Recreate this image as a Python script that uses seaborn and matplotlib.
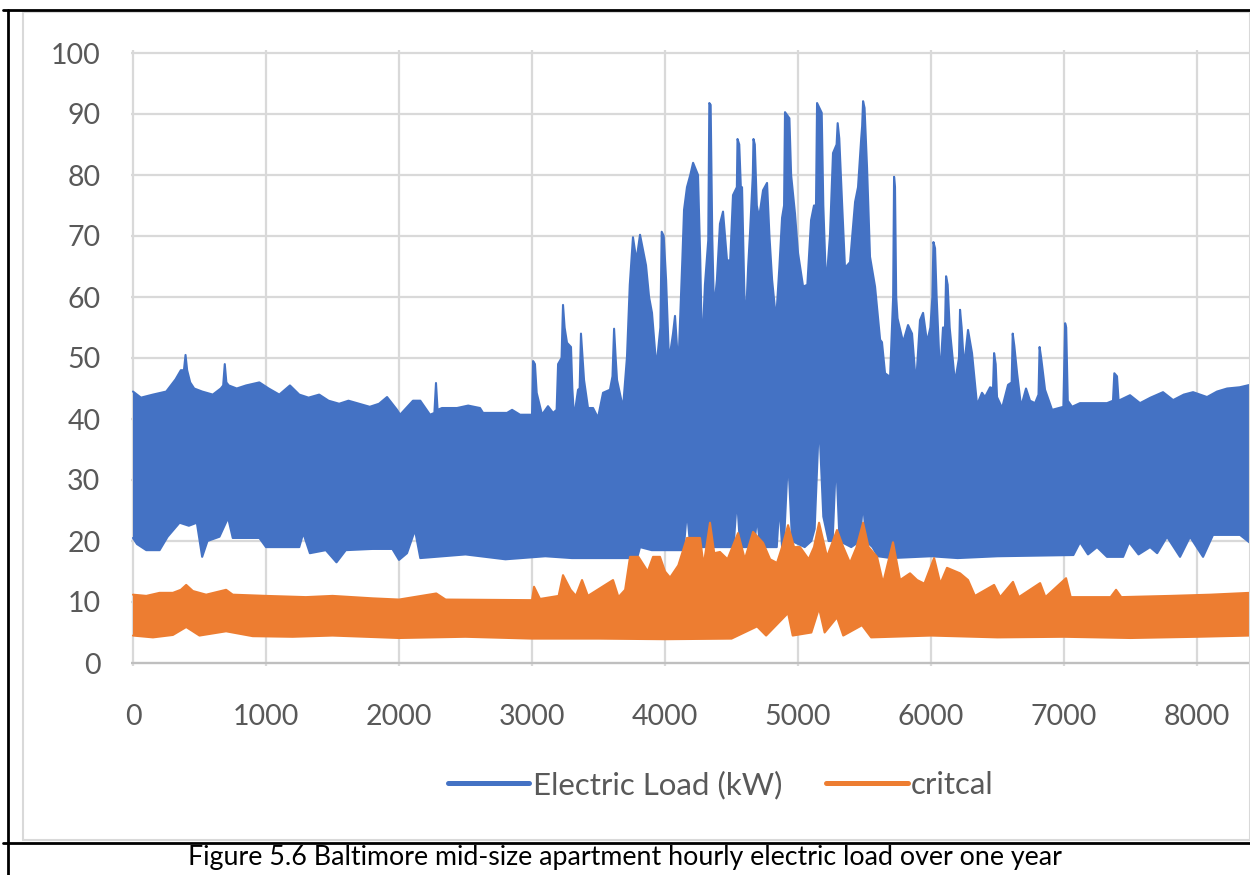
import numpy as np
import pandas as pd
import matplotlib
matplotlib.use("Agg")
import matplotlib.pyplot as plt
from matplotlib.lines import Line2D
from matplotlib.patches import Rectangle
import seaborn as sns

# ---------------- data (hour of year, kW) ----------------
# Electric Load: upper envelope (daily peaks)
load_upper_hour = [0, 60, 150, 250, 320, 360, 383, 395, 407, 430, 460, 520, 600, 660, 678, 690, 702,
                   720, 780, 850, 950, 1020, 1100, 1180, 1250, 1320, 1400, 1470, 1550, 1620, 1700,
                   1780, 1850, 1910, 1985, 2008, 2105, 2160, 2233, 2266, 2278, 2290, 2323, 2436,
                   2520, 2609, 2632, 2812, 2850, 2910, 3000, 3008, 3022, 3035, 3075, 3120, 3158,
                   3185, 3196, 3222, 3233, 3245, 3263, 3293, 3303, 3316, 3346, 3358, 3368, 3380,
                   3391, 3421, 3459, 3496, 3534, 3586, 3605, 3617, 3629, 3639, 3684, 3714, 3735,
                   3759, 3785, 3812, 3857, 3880, 3902, 3935, 3965, 3975, 3990, 4008, 4030, 4060,
                   4075, 4100, 4130, 4143, 4165, 4190, 4211, 4248, 4265, 4278, 4300, 4325, 4333,
                   4343, 4355, 4368, 4390, 4413, 4436, 4466, 4490, 4511, 4540, 4545, 4558, 4570,
                   4579, 4595, 4605, 4625, 4639, 4660, 4665, 4675, 4690, 4707, 4737, 4767, 4785,
                   4805, 4835, 4860, 4880, 4895, 4902, 4935, 4948, 4977, 5000, 5038, 5070, 5098,
                   5120, 5135, 5143, 5178, 5190, 5211, 5240, 5263, 5290, 5298, 5310, 5331, 5353,
                   5391, 5429, 5451, 5475, 5482, 5489, 5500, 5519, 5541, 5579, 5617, 5631, 5654,
                   5692, 5715, 5722, 5729, 5738, 5748, 5790, 5827, 5857, 5887, 5917, 5940, 5970,
                   5995, 6010, 6018, 6030, 6042, 6068, 6090, 6105, 6113, 6125, 6140, 6180, 6210,
                   6218, 6230, 6248, 6278, 6308, 6346, 6383, 6406, 6444, 6466, 6474, 6486, 6496,
                   6534, 6579, 6606, 6614, 6626, 6647, 6677, 6714, 6744, 6782, 6808, 6816, 6828,
                   6857, 6910, 6995, 7008, 7016, 7028, 7060, 7120, 7323, 7368, 7378, 7398, 7410,
                   7496, 7571, 7650, 7744, 7820, 7900, 7970, 8075, 8150, 8226, 8320, 8398]
load_upper_kw = [44.5, 43.5, 44, 44.5, 46.5, 48, 48, 50.5, 48, 46, 45, 44.5, 44, 45, 45.5, 49, 46,
                 45.5, 45, 45.5, 46, 45, 44, 45.5, 44, 43.5, 44, 43, 42.5, 43, 42.5,
                 42, 42.5, 43.6, 41.5, 40.7, 43, 43, 40.7, 41, 45.9, 41.5, 41.8, 41.8,
                 42.2, 41.8, 41, 41, 41.5, 40.7, 40.7, 49.5, 49, 44.3, 40.7, 42.1, 41,
                 41.5, 49, 50, 58.7, 55, 52.5, 51.8, 45, 40.2, 44.8, 45, 54, 50,
                 46.4, 41.8, 41.8, 40.2, 44.3, 44.8, 47, 54.8, 50, 46.4, 41.8, 50.2, 62,
                 69.8, 66, 70.2, 65.2, 60, 57.4, 48.5, 55, 70.7, 70, 62.8, 49.5, 54,
                 56.9, 48.5, 66, 74.3, 78, 80, 82, 80, 66, 50.8, 62, 69.3, 91.8,
                 91.5, 70, 57.9, 62.8, 72, 74, 66, 66, 76.7, 78, 85.9, 85, 78,
                 78, 62, 54.6, 65, 70.5, 80, 85.9, 85, 75, 73, 77.5, 78.7, 70,
                 62.8, 56.2, 65, 73, 75, 90.3, 89.3, 80, 73.7, 67.2, 61.7, 62, 72.6,
                 75, 75, 91.8, 90.2, 75, 61.7, 70, 83.6, 85, 88.5, 86, 75.4, 64.8,
                 65.7, 75.6, 78, 86, 88, 92.1, 91, 81.1, 66.6, 61.7, 53, 52.6, 47.5,
                 46.9, 60, 79.7, 78, 60, 56.5, 52.6, 55.4, 54, 45.6, 56.2, 57.4, 52.6,
                 55, 60, 69, 68, 60, 46.9, 55, 55, 63.4, 62, 55, 46, 50,
                 57.9, 55, 48.5, 54.6, 50.8, 42.3, 44.3, 43.6, 45.2, 45, 50.8, 49, 43.6,
                 41.8, 45.6, 46, 54, 52, 47.5, 42, 45, 43, 42.6, 44, 51.8, 50,
                 44.8, 41.5, 42, 55.7, 55, 43, 42, 42.6, 42.6, 43, 47.5, 47, 43,
                 43.9, 42.6, 43.5, 44.4, 43.1, 44, 44.4, 43.6, 44.5, 45, 45.2, 45.6]

# Electric Load: lower envelope (daily minima)
load_lower_hour = [0, 30, 100, 200, 260, 350, 420, 480, 520, 560, 650, 715, 750, 950, 1000, 1250,
                   1280, 1330, 1450, 1530, 1600, 1800, 1950, 2000, 2060, 2120, 2160, 2500, 2800,
                   3100, 3300, 3790, 3812, 3900, 4000, 4100, 4140, 4165, 4190, 4300, 4400, 4515,
                   4541, 4565, 4670, 4692, 4715, 4840, 4860, 4880, 4895, 4925, 4955, 5050, 5100,
                   5125, 5158, 5190, 5230, 5260, 5286, 5312, 5400, 5465, 5489, 5512, 5560, 5600,
                   5700, 6000, 6200, 6500, 7070, 7120, 7180, 7248, 7323, 7444, 7489, 7560, 7647,
                   7700, 7774, 7872, 7947, 8045, 8120, 8323, 8398]
load_lower_kw = [20.5, 19.5, 18.5, 18.5, 20.7, 23, 22.5, 23, 17.4, 20, 20.7, 23.8, 20.5, 20.5, 19, 19,
                 21.3, 18, 18.5, 16.5, 18.5, 18.7, 18.7, 16.9, 18, 21.8, 17.2, 17.8, 17.0,
                 17.5, 17.2, 17.2, 19, 18.5, 18.5, 18.5, 18.5, 25, 19, 19, 19, 19,
                 27, 19, 19, 24, 19, 19, 26, 19, 20, 34, 20, 19, 20,
                 22, 40, 24, 20, 20, 33.8, 20, 19, 20, 26.4, 20, 19, 17.5,
                 17.2, 17.5, 17.2, 17.5, 17.7, 19.8, 17.8, 19, 17.4, 17.4, 19.8, 17.8, 19,
                 18, 20.7, 17.4, 20.7, 17.4, 21, 21, 19.7]

# critcal: upper envelope
crit_upper_hour = [0, 100, 200, 300, 360, 400, 450, 550, 700, 750, 1000, 1300, 1500, 1800, 2000,
                   2280, 2350, 3000, 3015, 3060, 3200, 3233, 3290, 3330, 3376, 3420, 3609, 3650,
                   3700, 3737, 3800, 3870, 3910, 3962, 4000, 4038, 4100, 4165, 4263, 4290, 4338,
                   4370, 4413, 4470, 4549, 4600, 4662, 4737, 4790, 4842, 4880, 4925, 4970, 5015,
                   5080, 5120, 5158, 5218, 5293, 5340, 5391, 5440, 5489, 5530, 5594, 5639, 5714,
                   5767, 5842, 5895, 5950, 6023, 6070, 6120, 6218, 6278, 6330, 6474, 6520, 6616,
                   6660, 6820, 6860, 7015, 7050, 7350, 7391, 7430, 7800, 8100, 8398]
crit_upper_kw = [11.2, 11, 11.5, 11.5, 12, 12.8, 11.8, 11.2, 12, 11.2, 11, 10.8, 11, 10.6, 10.4,
                 11.4, 10.4, 10.3, 12.5, 10.5, 11, 14.4, 12, 11, 13.6, 11, 13.6, 10.8,
                 12, 17.4, 17.4, 15, 17.4, 17.4, 15, 14, 16, 20.5, 20.5, 16, 23,
                 18, 18.2, 17, 21.3, 17, 21.5, 19.7, 17, 16.4, 19, 22.6, 19, 19,
                 17, 19, 23, 17.4, 21.8, 19, 16.4, 19, 23, 19, 17.4, 13.1, 19.8,
                 13.6, 14.7, 13.6, 13, 17.2, 13, 15.6, 14.7, 13.6, 11, 12.8, 10.8, 13.3,
                 10.8, 13.1, 10.8, 13.9, 10.8, 10.8, 12, 10.8, 11, 11.2, 11.5]

# critcal: lower envelope
crit_lower_hour = [0, 150, 300, 400, 500, 700, 900, 1200, 1500, 2000, 2500, 3000, 3500, 4000, 4500,
                   4692, 4760, 4925, 4960, 5100, 5158, 5200, 5293, 5340, 5481, 5550, 6000, 6500,
                   7000, 7500, 8000, 8398]
crit_lower_kw = [4.5, 4.2, 4.6, 5.9, 4.5, 5.2, 4.4, 4.3, 4.5, 4.1, 4.3, 4.0, 4.0, 3.9, 4.0,
                 6, 4.5, 8.2, 4.5, 5, 9, 5, 7.5, 4.5, 6.2, 4.2, 4.5, 4.2,
                 4.3, 4.1, 4.3, 4.5]

series_labels = ["Electric Load (kW)", "critcal"]
series_colors = ["#4472C4", "#ED7D31"]
x_ticks = list(range(0, 9000, 1000))
y_ticks = list(range(0, 110, 10))
caption = "Figure 5.6 Baltimore mid-size apartment hourly electric load over one year"

# ---------------- figure ----------------
sns.set_theme(style="white")
plt.rcParams['font.family'] = ['Lato', 'DejaVu Sans']

W, H = 1250, 875
fig = plt.figure(figsize=(W / 100, H / 100), dpi=100)
fig.patch.set_facecolor("white")

# outer frame lines (document table) and chart-area frame
fig.add_artist(Rectangle((23 / W, 1 - 840 / H), (W - 23) / W, (840 - 12) / H,
                         transform=fig.transFigure, fill=False, edgecolor="#d9d9d9", lw=1.5))
for (x0, y0, x1, y1) in [(3, 10, W, 10), (8, 10, 8, H), (3, 843, W, 843)]:
    fig.add_artist(Line2D([x0 / W, x1 / W], [1 - y0 / H, 1 - y1 / H],
                          transform=fig.transFigure, color="black", lw=2))

ax = fig.add_axes([131 / W, (H - 666.05) / H, 1119 / W, 616.1 / H])
ax.set_xlim(-15, 8398)
ax.set_ylim(-0.5, 100.5)
ax.set_facecolor("white")
ax.set_axisbelow(True)
ax.grid(True, color="#d9d9d9", lw=1.6)
for s in ax.spines.values():
    s.set_visible(False)
ax.axhline(0, color="#bfbfbf", lw=1.6, zorder=1)

def band(xu, yu, xl, yl, color, z):
    ax.fill(np.r_[xu, xl[::-1]], np.r_[yu, yl[::-1]], color=color, lw=0, zorder=z)
    for xx, yy in ((xu, yu), (xl, yl)):
        df = pd.DataFrame({"hour": xx, "kw": yy})
        sns.lineplot(data=df, x="hour", y="kw", ax=ax, color=color, lw=1.5,
                     estimator=None, sort=False, legend=False, zorder=z)

band(np.array(load_upper_hour), np.array(load_upper_kw),
     np.array(load_lower_hour), np.array(load_lower_kw), series_colors[0], 3)
band(np.array(crit_upper_hour), np.array(crit_upper_kw),
     np.array(crit_lower_hour), np.array(crit_lower_kw), series_colors[1], 4)

ax.set_xticks(x_ticks)
ax.set_yticks(y_ticks)
ax.set_xticklabels([str(t) for t in x_ticks])
ax.set_yticklabels([str(t) for t in y_ticks])
ax.tick_params(axis="both", length=0, labelsize=20.5, labelcolor="#595959")
ax.tick_params(axis="x", pad=27)
ax.tick_params(axis="y", pad=22)
ax.set_xlabel("")
ax.set_ylabel("")

handles = [Line2D([], [], color=c, lw=3.6, solid_capstyle="round") for c in series_colors]
fig.legend(handles, series_labels, loc="center", bbox_to_anchor=(721 / W, 1 - 785 / H),
           ncol=2, frameon=False, fontsize=22.5, handlelength=2.6, handletextpad=0.12,
           columnspacing=1.4, labelcolor="#595959")

fig.text(625 / W, 1 - 857 / H, caption, ha="center", va="center", fontsize=19.3, color="black")

fig.savefig("out.png", dpi=100, facecolor="white")
